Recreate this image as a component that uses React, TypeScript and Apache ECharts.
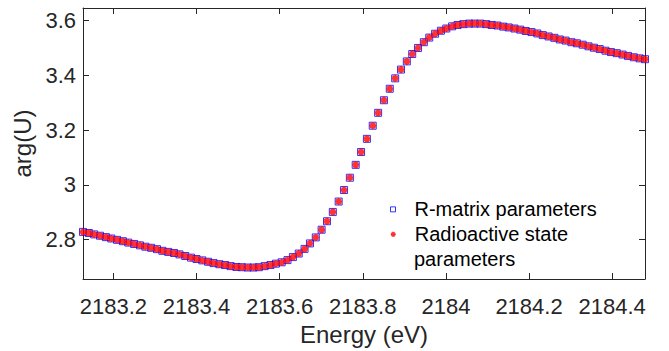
import React, { useEffect, useRef } from "react";
import * as echarts from "echarts";

const FONT = '"Liberation Sans", Arial, Helvetica, sans-serif';

// Energy grid (eV)
const energy = [
  2183.127, 2183.141, 2183.154, 2183.168, 2183.182, 2183.195, 2183.209, 2183.223, 2183.236, 2183.25,
  2183.264, 2183.277, 2183.291, 2183.305, 2183.318, 2183.332, 2183.346, 2183.359, 2183.373, 2183.387,
  2183.4, 2183.414, 2183.428, 2183.441, 2183.455, 2183.469, 2183.482, 2183.496, 2183.509, 2183.523,
  2183.537, 2183.55, 2183.564, 2183.578, 2183.591, 2183.605, 2183.619, 2183.632, 2183.646, 2183.66,
  2183.673, 2183.687, 2183.701, 2183.714, 2183.728, 2183.742, 2183.755, 2183.769, 2183.783, 2183.796,
  2183.81, 2183.824, 2183.837, 2183.851, 2183.865, 2183.878, 2183.892, 2183.906, 2183.919, 2183.933,
  2183.947, 2183.96, 2183.974, 2183.988, 2184.001, 2184.015, 2184.028, 2184.042, 2184.056, 2184.069,
  2184.083, 2184.097, 2184.11, 2184.124, 2184.138, 2184.151, 2184.165, 2184.179, 2184.192, 2184.206,
  2184.22, 2184.233, 2184.247, 2184.261, 2184.274, 2184.288, 2184.302, 2184.315, 2184.329, 2184.343,
  2184.356, 2184.37, 2184.384, 2184.397, 2184.411, 2184.425, 2184.438, 2184.452, 2184.466, 2184.479,
];

// arg(U) from the R-matrix parameters
const rMatrixArg = [
  2.828, 2.824, 2.819, 2.814, 2.809, 2.804, 2.799, 2.794, 2.789, 2.784,
  2.779, 2.774, 2.77, 2.765, 2.759, 2.755, 2.751, 2.746, 2.74, 2.734,
  2.729, 2.724, 2.719, 2.714, 2.71, 2.707, 2.703, 2.7, 2.699, 2.698,
  2.698, 2.699, 2.703, 2.707, 2.712, 2.717, 2.725, 2.736, 2.749, 2.766,
  2.786, 2.808, 2.836, 2.867, 2.901, 2.939, 2.981, 3.026, 3.073, 3.12,
  3.168, 3.216, 3.263, 3.309, 3.351, 3.389, 3.421, 3.451, 3.478, 3.5,
  3.521, 3.538, 3.552, 3.563, 3.571, 3.579, 3.584, 3.587, 3.589, 3.589,
  3.589, 3.587, 3.584, 3.582, 3.578, 3.575, 3.571, 3.567, 3.562, 3.558,
  3.553, 3.547, 3.542, 3.537, 3.531, 3.527, 3.521, 3.517, 3.512, 3.506,
  3.501, 3.496, 3.49, 3.485, 3.481, 3.476, 3.471, 3.466, 3.462, 3.459,
];

// arg(U) from the radioactive state parameters (coincides with the R-matrix curve)
const radioactiveArg = rMatrixArg;

const seriesNames = ["R-matrix parameters", "Radioactive state parameters"];
const legendLines = ["R-matrix parameters", "Radioactive state", "parameters"];

const X_MIN = 2183.127;
const X_MAX = 2184.479;
const Y_MIN = 2.656;
const Y_MAX = 3.646;

const ASTERISK =
  "path://M0,5L10,5M5,0L5,10M1.5,1.5L8.5,8.5M1.5,8.5L8.5,1.5";

export default function App() {
  const ref = useRef<HTMLDivElement>(null);

  useEffect(() => {
    const chart = echarts.init(ref.current!, null, { renderer: "svg" });
    const rData = energy.map((e, i) => [e, rMatrixArg[i]]);
    const sData = energy.map((e, i) => [e, radioactiveArg[i]]);

    const axisLine = { show: true, lineStyle: { color: "#262626", width: 1 } };
    const axisTick = { show: true, inside: true, length: 6, lineStyle: { color: "#262626", width: 1 } };
    const fmt = (v: number) => String(Number(v.toFixed(1)));

    const xCommon = {
      type: "value",
      min: X_MIN,
      max: X_MAX,
      minInterval: 0.2,
      maxInterval: 0.2,
      axisLine,
      axisTick,
      splitLine: { show: false },
    };
    const yCommon = {
      type: "value",
      min: Y_MIN,
      max: Y_MAX,
      minInterval: 0.2,
      maxInterval: 0.2,
      axisLine,
      axisTick,
      splitLine: { show: false },
    };

    const legendText = {
      fontSize: 20,
      color: "#000",
      fontFamily: FONT,
      lineHeight: 26.7,
      padding: [0, 0, 0, 14],
    };

    chart.setOption({
      animation: false,
      backgroundColor: "#ffffff",
      grid: { left: 83, right: 24, top: 8, bottom: 69, containLabel: false },
      xAxis: [
        {
          ...xCommon,
          position: "bottom",
          name: "Energy (eV)",
          nameLocation: "middle",
          nameGap: 43,
          nameTextStyle: { fontSize: 24, color: "#262626", fontFamily: FONT },
          axisLabel: {
            fontSize: 22,
            color: "#262626",
            fontFamily: FONT,
            margin: 16,
            showMinLabel: false,
            showMaxLabel: false,
            formatter: fmt,
          },
        },
        { ...xCommon, position: "top", axisLabel: { show: false } },
      ],
      yAxis: [
        {
          ...yCommon,
          position: "left",
          name: "arg(U)",
          nameLocation: "middle",
          nameGap: 43,
          nameTextStyle: { fontSize: 24, color: "#262626", fontFamily: FONT },
          axisLabel: {
            fontSize: 22,
            color: "#262626",
            fontFamily: FONT,
            margin: 7,
            showMinLabel: false,
            showMaxLabel: false,
            formatter: fmt,
          },
        },
        { ...yCommon, position: "right", axisLabel: { show: false } },
      ],
      legend: [
        {
          left: 390,
          top: 196,
          padding: 0,
          orient: "vertical",
          itemWidth: 5,
          itemHeight: 5,
          selectedMode: false,
          data: [
            {
              name: seriesNames[0],
              icon: "rect",
              itemStyle: { color: "rgba(0,0,0,0)", borderColor: "#0000ff", borderWidth: 1 },
            },
          ],
          formatter: () => legendLines[0],
          textStyle: legendText,
        },
        {
          left: 390,
          top: 221,
          padding: 0,
          orient: "vertical",
          itemWidth: 5,
          itemHeight: 5,
          selectedMode: false,
          data: [
            {
              name: seriesNames[1],
              icon: ASTERISK,
              itemStyle: { color: "#ff0000", borderColor: "#ff0000", borderWidth: 1.5 },
            },
          ],
          formatter: () => legendLines[1],
          textStyle: legendText,
        },
      ],
      graphic: [
        {
          type: "text",
          left: 414,
          top: 249,
          style: {
            text: legendLines[2],
            fontSize: 20,
            fill: "#000",
            fontFamily: FONT,
          },
        },
      ],
      series: [
        {
          name: seriesNames[0],
          type: "scatter",
          xAxisIndex: 0,
          yAxisIndex: 0,
          symbol: "rect",
          symbolSize: 7,
          itemStyle: { color: "rgba(0,0,0,0)", borderColor: "#0000ff", borderWidth: 1 },
          data: rData,
          z: 2,
        },
        {
          name: seriesNames[1],
          type: "scatter",
          xAxisIndex: 0,
          yAxisIndex: 0,
          symbol: ASTERISK,
          symbolSize: 7,
          itemStyle: { color: "#ff0000", borderColor: "#ff0000", borderWidth: 2 },
          data: sData,
          z: 3,
        },
      ],
    });

    return () => chart.dispose();
  }, []);

  return (
    <div
      ref={ref}
      style={{ position: "absolute", left: 0, top: 0, width: 669, height: 351, background: "#fff" }}
    />
  );
}
